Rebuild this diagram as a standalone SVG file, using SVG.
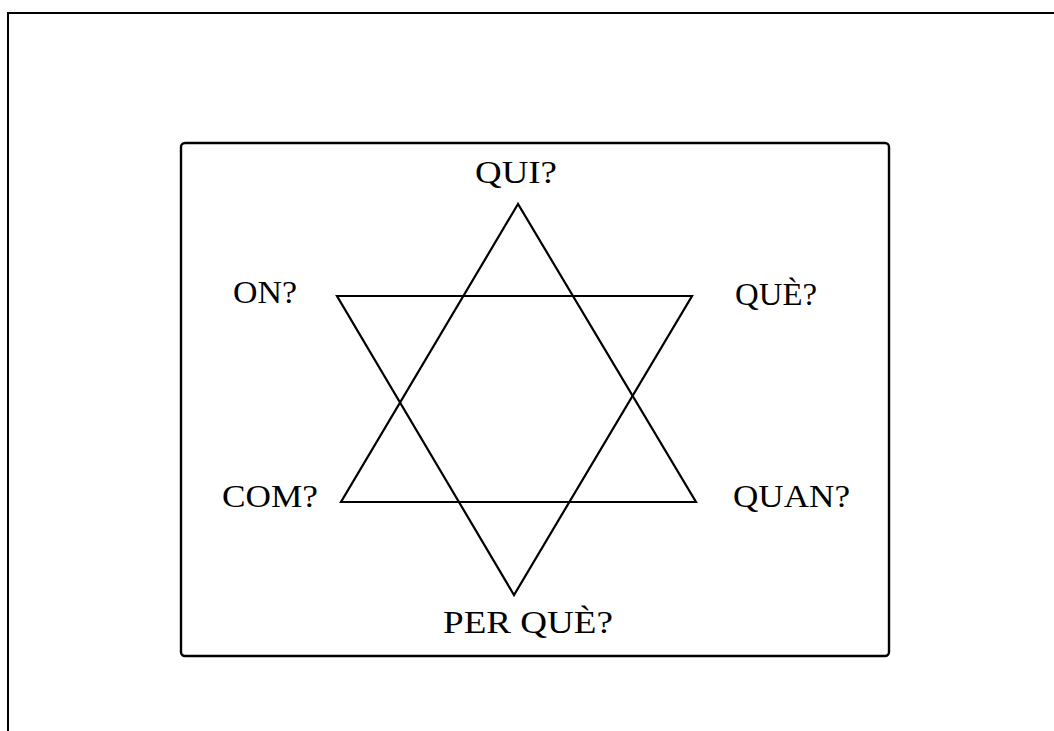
<svg xmlns="http://www.w3.org/2000/svg" width="1054" height="731" viewBox="0 0 1054 731">
<style>
.lbl{font-family:"Liberation Serif","Times New Roman",serif;font-size:31px;fill:#000}
.ln{fill:none;stroke:#000;stroke-width:2.2;stroke-linejoin:miter}
</style>
<rect width="1054" height="731" fill="#fff"/>
<g id="frame"><rect x="8" y="13" width="1100" height="760" fill="none" stroke="#000" stroke-width="2"/></g>
<g id="box"><rect x="181" y="143" width="708" height="513" rx="4" fill="none" stroke="#000" stroke-width="2.4"/></g>
<g id="connectors">
<polygon class="ln" points="518,204 341,502 696,502"/>
<polygon class="ln" points="337,296 692,296 514,595"/>
</g>
<g id="qui"><text class="lbl" x="475" y="183" textLength="82" lengthAdjust="spacingAndGlyphs">QUI?</text></g>
<g id="on"><text class="lbl" x="233" y="303" textLength="64" lengthAdjust="spacingAndGlyphs">ON?</text></g>
<g id="que"><text class="lbl" x="735" y="305" textLength="82" lengthAdjust="spacingAndGlyphs">QUÈ?</text></g>
<g id="com"><text class="lbl" x="222" y="507" textLength="96" lengthAdjust="spacingAndGlyphs">COM?</text></g>
<g id="quan"><text class="lbl" x="733" y="507" textLength="117" lengthAdjust="spacingAndGlyphs">QUAN?</text></g>
<g id="perque"><text class="lbl" x="443" y="633" textLength="170" lengthAdjust="spacingAndGlyphs">PER QUÈ?</text></g>
</svg>
